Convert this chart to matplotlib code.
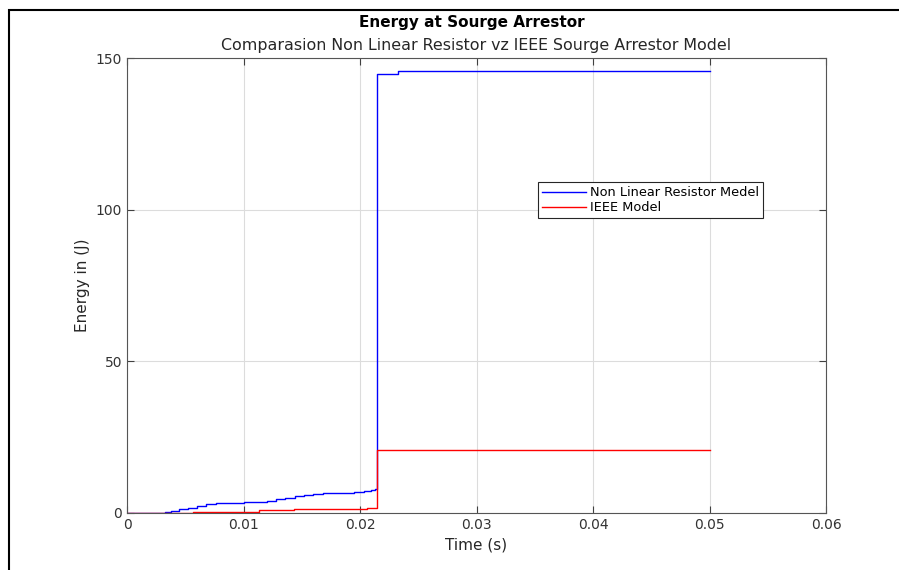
import matplotlib.pyplot as plt
from matplotlib.patches import Rectangle

# Energy data (time in s, energy in J)
t_nlr = [0, 0.0033, 0.0038, 0.0045, 0.0052, 0.0060, 0.0068, 0.0076, 0.0085,
         0.0100, 0.0112, 0.0120, 0.0128, 0.0136, 0.0144, 0.0152, 0.0160,
         0.0168, 0.0195, 0.0203, 0.0209, 0.0213, 0.02145, 0.0233, 0.05]
e_nlr = [0, 0.3, 0.7, 1.2, 1.8, 2.4, 2.9, 3.2, 3.4,
         3.5, 3.7, 4.1, 4.6, 5.1, 5.6, 6.0, 6.4,
         6.7, 7.0, 7.3, 7.6, 7.9, 144.8, 145.6, 145.6]

t_ieee = [0, 0.0033, 0.0057, 0.0113, 0.0143, 0.0206, 0.02145, 0.05]
e_ieee = [0, 0.1, 0.4, 0.9, 1.3, 1.6, 20.7, 20.7]

xticks = [0, 0.01, 0.02, 0.03, 0.04, 0.05, 0.06]
yticks = [0, 50, 100, 150]

fig = plt.figure(figsize=(8.99, 5.70), dpi=100)
ax = fig.add_axes([0.1413, 0.1, 0.7775, 0.7982])

ax.plot(t_nlr, e_nlr, color='blue', lw=1, drawstyle='steps-post', label='Non Linear Resistor Medel')
ax.plot(t_ieee, e_ieee, color='red', lw=1, drawstyle='steps-post', label='IEEE Model')

ax.set_xlim(0, 0.06)
ax.set_ylim(0, 150)
ax.set_xticks(xticks)
ax.set_xticklabels(['0', '0.01', '0.02', '0.03', '0.04', '0.05', '0.06'])
ax.set_yticks(yticks)
ax.grid(True, color='#dcdcdc', lw=0.8)
ax.set_axisbelow(True)
ax.tick_params(direction='in', top=True, right=True, length=5, colors='#404040',
               labelcolor='#333333', labelsize=10)
for s in ax.spines.values():
    s.set_color('#555555')

ax.set_xlabel('Time (s)', fontsize=11, color='#262626')
ax.set_ylabel('Energy in (J)', fontsize=11, color='#262626')

fig.text(0.5245, 0.96, 'Energy at Sourge Arrestor', ha='center', va='center',
         fontsize=11, fontweight='bold')
fig.text(0.5300, 0.92, 'Comparasion Non Linear Resistor vz IEEE Sourge Arrestor Model',
         ha='center', va='center', fontsize=11.4, color='#262626')

leg = ax.legend(loc='upper left', bbox_to_anchor=(0.588, 0.727), fontsize=9.3,
                frameon=True, fancybox=False, framealpha=1, borderpad=0.3,
                labelspacing=0.15, handlelength=3.4, handletextpad=0.35,
                borderaxespad=0)
leg.get_frame().set_edgecolor('#262626')
leg.get_frame().set_linewidth(0.8)

# outer frame of the screenshot window
fig.patches.append(Rectangle((9 / 899, -0.05), 1.0, 1 - 10 / 570 + 0.05,
                             transform=fig.transFigure, fill=False,
                             edgecolor='black', lw=1.5))

fig.savefig('out.png', dpi=100)
